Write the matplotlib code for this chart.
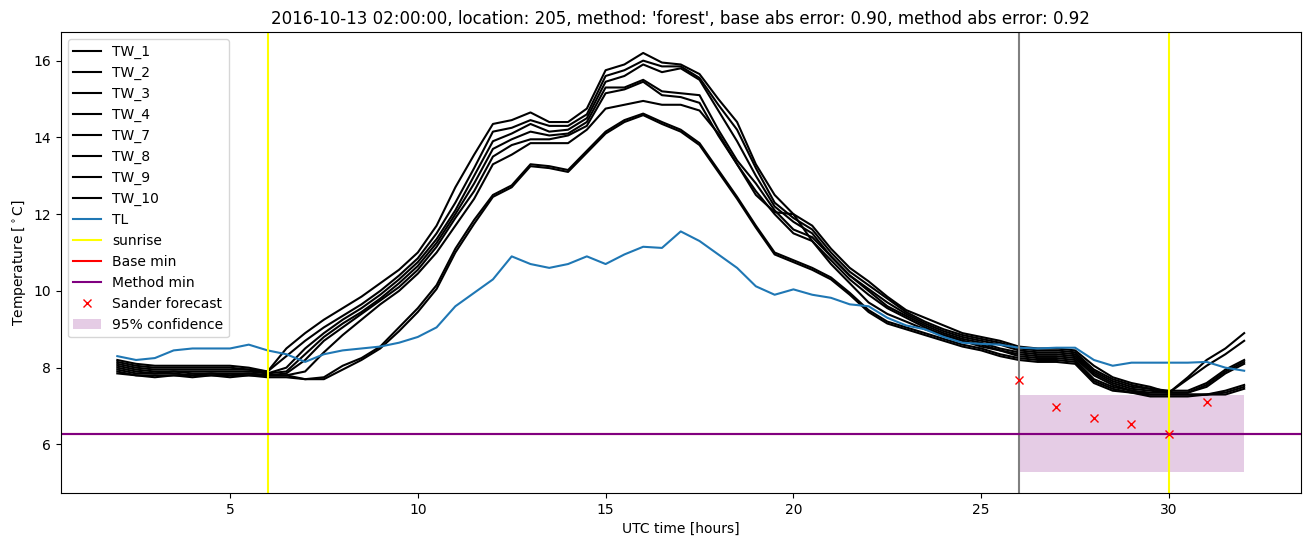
import numpy as np
import matplotlib
matplotlib.use("Agg")
from matplotlib import pyplot as plt

# time grid, half-hourly readings
hours = np.arange(2, 32.5, 0.5)

tw_names = ['TW_1', 'TW_2', 'TW_3', 'TW_4', 'TW_7', 'TW_8', 'TW_9', 'TW_10']

tw_1 = [8.20, 8.10, 8.05, 8.05, 8.05, 8.05, 8.05, 8.00, 7.90, 8.50,
        8.90, 9.25, 9.55, 9.85, 10.20, 10.55, 11.00, 11.70, 12.70, 13.55,
        14.35, 14.45, 14.65, 14.40, 14.40, 14.75, 15.75, 15.90, 16.20, 15.95,
        15.90, 15.65, 15.00, 14.40, 13.30, 12.50, 12.00, 11.70, 11.10, 10.60,
        10.25, 9.85, 9.50, 9.30, 9.10, 8.90, 8.80, 8.70, 8.55, 8.50,
        8.50, 8.45, 8.05, 7.75, 7.60, 7.50, 7.35, 7.75, 8.20, 8.50,
        8.90]
tw_2 = [8.15, 8.05, 8.00, 8.00, 8.00, 8.00, 8.00, 7.95, 7.90, 8.30,
        8.70, 9.05, 9.35, 9.65, 10.00, 10.40, 10.85, 11.50, 12.30, 13.20,
        14.15, 14.25, 14.45, 14.30, 14.30, 14.60, 15.60, 15.75, 16.00, 15.85,
        15.85, 15.55, 14.85, 14.20, 13.20, 12.30, 11.90, 11.60, 11.00, 10.50,
        10.15, 9.80, 9.45, 9.20, 9.00, 8.85, 8.75, 8.65, 8.50, 8.45,
        8.45, 8.40, 7.95, 7.70, 7.55, 7.45, 7.35, 7.70, 8.05, 8.35,
        8.70]
tw_3 = [8.10, 8.00, 7.95, 7.95, 7.95, 7.95, 7.95, 7.95, 7.85, 8.00,
        8.50, 8.90, 9.25, 9.55, 9.90, 10.30, 10.75, 11.35, 12.10, 13.00,
        13.90, 14.10, 14.35, 14.15, 14.20, 14.50, 15.45, 15.60, 15.90, 15.70,
        15.80, 15.50, 14.70, 13.90, 13.00, 12.20, 11.80, 11.50, 10.90, 10.40,
        10.05, 9.70, 9.40, 9.15, 8.95, 8.80, 8.70, 8.60, 8.45, 8.40,
        8.40, 8.35, 7.90, 7.65, 7.50, 7.45, 7.40, 7.40, 7.60, 7.95,
        8.20]
tw_4 = [8.05, 7.95, 7.90, 7.90, 7.90, 7.90, 7.90, 7.90, 7.85, 7.90,
        8.35, 8.80, 9.15, 9.45, 9.80, 10.20, 10.65, 11.25, 12.00, 12.80,
        13.70, 13.95, 14.15, 14.05, 14.10, 14.40, 15.30, 15.30, 15.50, 15.20,
        15.15, 15.10, 14.20, 13.40, 12.80, 12.10, 11.60, 11.40, 10.90, 10.40,
        10.00, 9.60, 9.35, 9.10, 8.90, 8.75, 8.65, 8.50, 8.40, 8.35,
        8.35, 8.30, 7.85, 7.60, 7.45, 7.40, 7.35, 7.35, 7.55, 7.90,
        8.15]
tw_7 = [8.00, 7.90, 7.85, 7.90, 7.85, 7.85, 7.85, 7.85, 7.80, 7.85,
        8.20, 8.70, 9.05, 9.40, 9.75, 10.10, 10.55, 11.15, 11.90, 12.60,
        13.50, 13.80, 13.95, 13.95, 14.05, 14.30, 15.15, 15.25, 15.45, 15.10,
        15.05, 14.90, 14.05, 13.30, 12.60, 12.00, 11.50, 11.30, 10.80, 10.30,
        9.90, 9.55, 9.30, 9.05, 8.85, 8.70, 8.60, 8.45, 8.35, 8.30,
        8.30, 8.25, 7.80, 7.55, 7.40, 7.35, 7.35, 7.35, 7.50, 7.85,
        8.10]
tw_8 = [7.95, 7.85, 7.85, 7.85, 7.80, 7.85, 7.80, 7.85, 7.80, 7.80,
        7.90, 8.40, 8.85, 9.25, 9.65, 10.00, 10.45, 11.00, 11.70, 12.40,
        13.30, 13.55, 13.85, 13.85, 13.85, 14.20, 14.75, 14.85, 14.95, 14.85,
        14.85, 14.70, 14.10, 13.30, 12.50, 12.05, 12.00, 11.30, 10.70, 10.20,
        9.70, 9.40, 9.20, 9.00, 8.85, 8.70, 8.55, 8.45, 8.30, 8.25,
        8.25, 8.20, 7.70, 7.50, 7.40, 7.30, 7.30, 7.30, 7.30, 7.40,
        7.55]
tw_9 = [7.90, 7.80, 7.80, 7.80, 7.80, 7.80, 7.80, 7.80, 7.80, 7.80,
        7.70, 7.75, 8.05, 8.25, 8.55, 9.05, 9.55, 10.15, 11.10, 11.85,
        12.50, 12.75, 13.30, 13.25, 13.15, 13.65, 14.15, 14.45, 14.62, 14.40,
        14.20, 13.85, 13.15, 12.45, 11.70, 11.00, 10.80, 10.60, 10.35, 9.95,
        9.50, 9.20, 9.05, 8.90, 8.75, 8.60, 8.50, 8.35, 8.25, 8.20,
        8.20, 8.15, 7.65, 7.45, 7.35, 7.30, 7.30, 7.30, 7.30, 7.35,
        7.50]
tw_10 = [7.85, 7.80, 7.75, 7.80, 7.75, 7.80, 7.75, 7.80, 7.75, 7.75,
         7.70, 7.70, 7.95, 8.20, 8.50, 8.95, 9.45, 10.05, 11.00, 11.75,
         12.45, 12.70, 13.25, 13.20, 13.10, 13.60, 14.10, 14.40, 14.58, 14.35,
         14.15, 13.80, 13.10, 12.40, 11.65, 10.95, 10.75, 10.55, 10.30, 9.90,
         9.45, 9.15, 9.00, 8.85, 8.70, 8.55, 8.45, 8.30, 8.20, 8.15,
         8.15, 8.10, 7.60, 7.40, 7.35, 7.25, 7.25, 7.25, 7.30, 7.30,
         7.45]

tl = [8.30, 8.20, 8.25, 8.45, 8.50, 8.50, 8.50, 8.60, 8.45, 8.35,
      8.15, 8.35, 8.45, 8.50, 8.55, 8.65, 8.80, 9.05, 9.60, 9.95,
      10.30, 10.90, 10.70, 10.60, 10.70, 10.90, 10.70, 10.95, 11.15, 11.12,
      11.55, 11.30, 10.95, 10.60, 10.12, 9.90, 10.04, 9.90, 9.82, 9.65,
      9.60, 9.30, 9.10, 9.00, 8.80, 8.65, 8.62, 8.60, 8.52, 8.50,
      8.52, 8.52, 8.20, 8.05, 8.13, 8.13, 8.13, 8.13, 8.15, 8.00,
      7.92]

sunrise = [6, 30]
forecast_time = 26
base_min = 6.28
method_min = 6.28
sander_hours = [26, 27, 28, 29, 30, 31]
sander_vals = [7.69, 6.98, 6.68, 6.54, 6.26, 7.11]
conf_hours = [26, 32]
conf_low = 5.28
conf_high = 7.28

tw_all = [tw_1, tw_2, tw_3, tw_4, tw_7, tw_8, tw_9, tw_10]

fig = plt.figure(figsize=(13.11, 5.47), dpi=100)
ax = fig.add_subplot(111)
fig.subplots_adjust(left=0.0465, right=0.992, top=0.9415, bottom=0.0987)

for name, vals in zip(tw_names, tw_all):
    ax.plot(hours, vals, color='black', label=name)
ax.plot(hours, tl, label='TL')

ax.axvline(sunrise[0], color='yellow', label='sunrise')
ax.axvline(sunrise[1], color='yellow')
ax.axvline(forecast_time, color='grey')
ax.axhline(base_min, color='red', label='Base min')
ax.axhline(method_min, color='purple', label='Method min')
ax.plot(sander_hours, sander_vals, 'x', color='red', label='Sander forecast')
ax.fill_between(conf_hours, conf_low, conf_high, color='purple', alpha=0.2,
                linewidth=0, label='95% confidence')

ax.set_title("2016-10-13 02:00:00, location: 205, method: 'forest', "
             "base abs error: 0.90, method abs error: 0.92")
ax.set_xlabel('UTC time [hours]')
ax.set_ylabel(r'Temperature [$^\circ$C]')
ax.legend(loc='upper left')

fig.savefig('out.png', dpi=100)
